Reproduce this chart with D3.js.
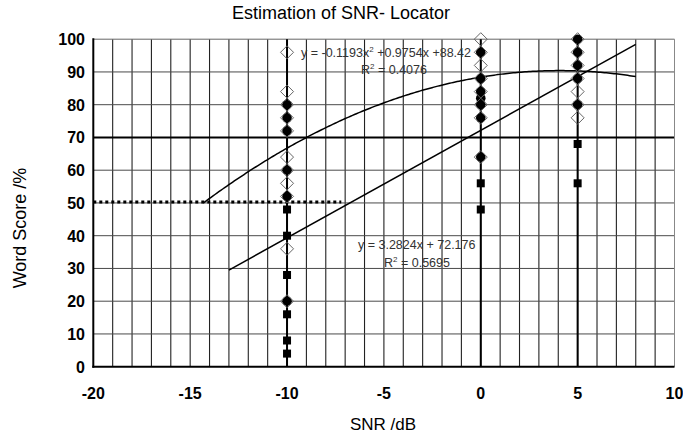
<!DOCTYPE html>
<html>
<head>
<meta charset="utf-8">
<script src="https://cdn.jsdelivr.net/npm/d3@7"></script>
<style>
  html, body { margin: 0; padding: 0; background: #fff; }
  svg { display: block; }
  text { font-family: "Liberation Sans", Arial, sans-serif; }
</style>
</head>
<body>
<svg id="chart" width="683" height="438"></svg>
<script>
// ---- data ----
const xTicks = [-20, -15, -10, -5, 0, 5, 10];
const yTicks = [0, 10, 20, 30, 40, 50, 60, 70, 80, 90, 100];

// filled squares
const squareX = [-10, -10, -10, -10, -10, -10, 0, 0, 5, 5];
const squareY = [48, 40, 28, 16, 8, 4, 56, 48, 68, 56];

// filled circles
const circleX = [-10, -10, -10, -10, -10, -10, 0, 0, 0, 0, 0, 0, 0, 5, 5, 5, 5, 5];
const circleY = [80, 76, 72, 60, 52, 20, 96, 88, 84, 82, 80, 76, 64, 100, 96, 92, 88, 80];

// open diamonds
const diamondX = [-10, -10, -10, -10, -10, -10, -10, -10, -10, -10, -10, 0, 0, 0, 0, 0, 0, 0, 0, 5, 5, 5, 5, 5, 5, 5];
const diamondY = [96, 84, 80, 76, 72, 64, 60, 56, 52, 36, 20, 100, 96, 92, 88, 84, 80, 76, 64, 100, 96, 92, 88, 84, 80, 76];

// trendlines (coefficients shown on chart) and their drawn extents
const quadCoef = [-0.1193, 0.9754, 88.42];
const quadRange = [-14.32, 8];
const linCoef = [3.2824, 72.176];
const linRange = [-13, 8];

// reference lines
const threshold = 50;
const thresholdEnd = -7.2;
const emphLineY = 70;
const dropLineX = [-10, 0, 5];

const titleText = "Estimation of SNR- Locator";
const xTitle = "SNR /dB";
const yTitle = "Word Score /%";
const quadLabel = ["y = -0.1193x", "2", " +0.9754x +88.42"];
const quadR2 = ["R", "2", " = 0.4076"];
const linLabel = "y = 3.2824x + 72.176";
const linR2 = ["R", "2", " = 0.5695"];

// ---- drawing ----
const svg = d3.select("#chart");
const L = 93.3, R = 674.5, T = 39.2, B = 366.7;
const x = d3.scaleLinear().domain([-20, 10]).range([L, R]);
const y = d3.scaleLinear().domain([0, 100]).range([B, T]);

// vertical minor gridlines (every 1 unit)
const vgrid = d3.range(-19, 10);
svg.append("g").selectAll("line").data(vgrid).join("line")
  .attr("x1", d => x(d)).attr("x2", d => x(d))
  .attr("y1", T).attr("y2", B)
  .attr("stroke", "#222").attr("stroke-width", 1.1);

// horizontal gridlines
svg.append("g").selectAll("line").data(yTicks.filter(v => v > 0 && v < 100)).join("line")
  .attr("x1", L).attr("x2", R)
  .attr("y1", d => y(d)).attr("y2", d => y(d))
  .attr("stroke", d => d === emphLineY ? "#000" : "#4a4a4a")
  .attr("stroke-width", d => d === emphLineY ? 2 : 1);

// top & right border
svg.append("line").attr("x1", L).attr("x2", R).attr("y1", T).attr("y2", T)
  .attr("stroke", "#666").attr("stroke-width", 1);
svg.append("line").attr("x1", R).attr("x2", R).attr("y1", T).attr("y2", B)
  .attr("stroke", "#888").attr("stroke-width", 1);

// drop lines through data columns
svg.append("g").selectAll("line").data(dropLineX).join("line")
  .attr("x1", d => x(d)).attr("x2", d => x(d))
  .attr("y1", T).attr("y2", B)
  .attr("stroke", "#000").attr("stroke-width", 2);

// threshold dotted line
svg.append("line")
  .attr("x1", x(-20)).attr("x2", x(thresholdEnd))
  .attr("y1", y(threshold) - 1).attr("y2", y(threshold) - 1)
  .attr("stroke", "#000").attr("stroke-width", 3)
  .attr("stroke-dasharray", "3,3");

// trendlines
const quadPts = d3.range(quadRange[0], quadRange[1] + 0.001, 0.1).map(v => [v, quadCoef[0]*v*v + quadCoef[1]*v + quadCoef[2]]);
quadPts[quadPts.length - 1][0] = quadRange[1];
const line = d3.line().x(d => x(d[0])).y(d => y(d[1]));
svg.append("path").attr("d", line(quadPts)).attr("fill", "none")
  .attr("stroke", "#000").attr("stroke-width", 1.5);
const linPts = linRange.map(v => [v, linCoef[0]*v + linCoef[1]]);
svg.append("path").attr("d", line(linPts)).attr("fill", "none")
  .attr("stroke", "#000").attr("stroke-width", 1.5);

// axes lines
svg.append("line").attr("x1", L).attr("x2", L).attr("y1", T - 1).attr("y2", B + 1)
  .attr("stroke", "#000").attr("stroke-width", 2);
svg.append("line").attr("x1", L - 1).attr("x2", R).attr("y1", B).attr("y2", B)
  .attr("stroke", "#000").attr("stroke-width", 2);

// markers: circles
svg.append("g").selectAll("circle").data(circleX.map((v, i) => [v, circleY[i]])).join("circle")
  .attr("cx", d => x(d[0])).attr("cy", d => y(d[1])).attr("r", 4.8)
  .attr("fill", "#000");
// squares
svg.append("g").selectAll("rect").data(squareX.map((v, i) => [v, squareY[i]])).join("rect")
  .attr("x", d => x(d[0]) - 4).attr("y", d => y(d[1]) - 4)
  .attr("width", 8).attr("height", 8).attr("fill", "#000");
// diamonds
svg.append("g").selectAll("path").data(diamondX.map((v, i) => [v, diamondY[i]])).join("path")
  .attr("d", d => {
    const cx = x(d[0]), cy = y(d[1]), s = 6.5;
    return `M${cx},${cy - s}L${cx + s},${cy}L${cx},${cy + s}L${cx - s},${cy}Z`;
  })
  .attr("fill", "none").attr("stroke", "#666").attr("stroke-width", 1);

// tick labels
svg.append("g").selectAll("text").data(yTicks).join("text")
  .attr("x", 85).attr("y", d => y(d) + 6)
  .attr("text-anchor", "end").attr("font-weight", "bold").attr("font-size", 16)
  .text(d => d);
svg.append("g").selectAll("text").data(xTicks).join("text")
  .attr("x", d => x(d)).attr("y", 399)
  .attr("text-anchor", "middle").attr("font-weight", "bold").attr("font-size", 16)
  .text(d => d);

// titles
svg.append("text").attr("x", 341).attr("y", 19).attr("text-anchor", "middle")
  .attr("font-size", 18).text(titleText);
svg.append("text").attr("x", 383).attr("y", 430).attr("text-anchor", "middle")
  .attr("font-size", 17).text(xTitle);
svg.append("text").attr("transform", "translate(26,228) rotate(-90)")
  .attr("text-anchor", "middle").attr("font-size", 18).text(yTitle);

// equation labels
function supText(xp, yp, parts) {
  const t = svg.append("text").attr("x", xp).attr("y", yp)
    .attr("font-size", 12.5).attr("fill", "#333");
  t.append("tspan").text(parts[0]);
  t.append("tspan").attr("dy", -5).attr("font-size", 8).text(parts[1]);
  t.append("tspan").attr("dy", 5).text(parts[2]);
  return t;
}
supText(301, 57, quadLabel);
supText(361, 74, quadR2);
svg.append("text").attr("x", 358).attr("y", 249).attr("font-size", 12.5).attr("fill", "#333")
  .text(linLabel);
supText(384, 267, linR2);
</script>
</body>
</html>
